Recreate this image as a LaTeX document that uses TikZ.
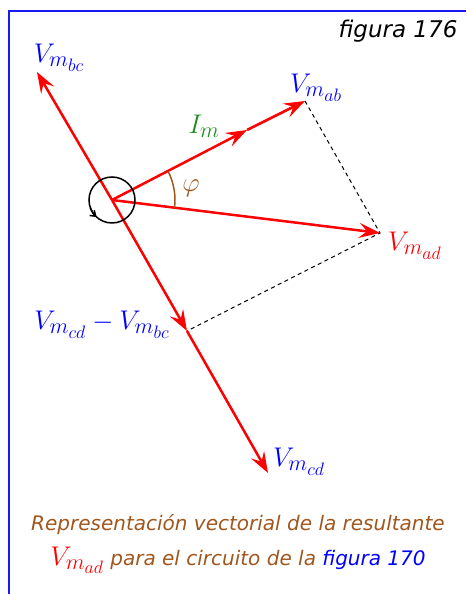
\RequirePackage{fix-cm}
\documentclass[tikz,border=0pt]{standalone}
\usepackage{fontspec}
\setmainfont{DejaVu Sans}
\usetikzlibrary{arrows.meta,positioning}
\DeclareMathSizes{27}{27}{22}{18}
\definecolor{ocre}{HTML}{A0561C}
\definecolor{leaf}{HTML}{1E8C1E}
\definecolor{frameblue}{HTML}{1A1AF0}

\begin{document}
\begin{tikzpicture}[x=1pt,y=1pt,vec/.style={-{Stealth[length=21pt,width=15pt,inset=8pt]},line width=2.5pt,red},guide/.style={line width=1pt,dash pattern=on 4pt off 3.5pt,black},vlabel/.style={text=blue,font=\fontsize{27}{32}\selectfont},caption/.style={font=\fontsize{20}{35}\selectfont\itshape,text=ocre,align=center}]
 \useasboundingbox (0,0) rectangle (466,594);
 \draw[frameblue,line width=2pt] (9,0)--(9,583)--(466,583);
 % phasor tips
 \coordinate (o) at (112,394);
 \coordinate (bc) at (37,522);
 \coordinate (im) at (247,464);
 \coordinate (ab) at (305,493);
 \coordinate (ad) at (380,361);
 \coordinate (diff) at (187,263);
 \coordinate (cd) at (268,121);
 \draw[guide] (ab)--(ad)--(diff);
 \draw[vec] (o)--(bc);
 \draw[vec] (o)--(im); \draw[vec] (im)--(ab);
 \draw[vec] (o)--(ad);
 \draw[vec] (o)--(diff); \draw[vec] (diff)--(cd);
 \draw[ocre,line width=1.5pt] ([shift={(-7:63)}]o) arc (-7:27:63);
 \draw[black,line width=1.5pt] (o) circle (23);
 \draw[black,line width=1.5pt,-{Straight Barb[length=5pt,width=7pt]}] ([shift={(200:23)}]o) arc (200:228:23);
 % labels
 \node[vlabel] (lbc) at (59,536) {$V_{m_{bc}}$};
 \node[vlabel] (lab) at (316,506) {$V_{m_{ab}}$};
 \node[vlabel,text=leaf] (lim) at (204,468) {$I_m$};
 \node[vlabel,text=ocre] (phi) at (191,406) {$\varphi$};
 \node[vlabel,text=red] (lad) at (415,348) {$V_{m_{ad}}$};
 \node[vlabel] (ldiff) at (102,269) {$V_{m_{cd}}-V_{m_{bc}}$};
 \node[vlabel] (lcd) at (299,132) {$V_{m_{cd}}$};
 \node[font=\fontsize{23}{28}\selectfont\itshape] (fig) at (398,563) {figura 176};
 \node[caption] (cap) at (238,50) {Representación vectorial de la resultante\\{\color{red}\fontsize{27}{35}\selectfont$V_{m_{ad}}$} para el circuito de la {\color{blue}figura 170}};
\end{tikzpicture}
\end{document}
